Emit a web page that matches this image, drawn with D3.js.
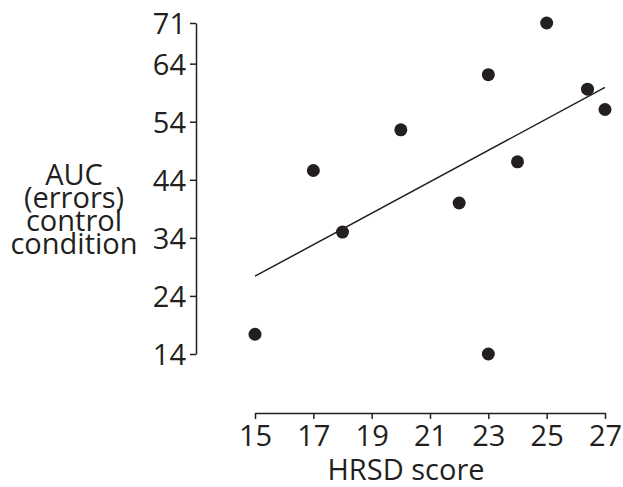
<!DOCTYPE html>
<html>
<head>
<meta charset="utf-8">
<script src="https://cdn.jsdelivr.net/npm/d3@7"></script>
<style>
  body { margin: 0; background: #fff; }
  svg text { font-family: "Open Sans", "Noto Sans", sans-serif; fill: #231f20; }
  .axis path, .axis line { stroke: #231f20; stroke-width: 1.5; }
</style>
</head>
<body>
<svg id="chart" width="623" height="487"></svg>
<script>
// data
var hrsd = [15, 17, 18, 20, 22, 23, 23, 24, 25, 26.4, 27];
var auc  = [17.4, 45.6, 35.0, 52.6, 40.0, 62.1, 14.0, 47.1, 71.0, 59.6, 56.1];
// fitted line end points (x, y)
var fitX = [15, 27];
var fitY = [27.4, 59.9];
var xTicks = [15, 17, 19, 21, 23, 25, 27];
var yTicks = [14, 24, 34, 44, 54, 64, 71];
var yLabel = ["AUC", "(errors)", "control", "condition"];

var svg = d3.select("#chart");
var ink = "#231f20";
var fs = "29px";

var x = d3.scaleLinear().domain([15, 27]).range([255, 605]);
var y = d3.scaleLinear().domain([14, 71]).range([354, 23]);

// x axis
var xg = svg.append("g").attr("class", "axis")
  .attr("transform", "translate(0,413)")
  .call(d3.axisBottom(x).tickValues(xTicks).tickSize(6).tickPadding(6).tickSizeOuter(0));
xg.selectAll("text").style("font-size", fs);

// y axis
var yg = svg.append("g").attr("class", "axis")
  .attr("transform", "translate(196,0)")
  .call(d3.axisLeft(y).tickValues(yTicks).tickSize(6).tickPadding(4).tickSizeOuter(0));
yg.selectAll("text").style("font-size", fs).attr("dy", "0.36em");
svg.selectAll(".axis .domain").attr("fill", "none");
svg.selectAll(".axis text").attr("fill", ink);

// axis titles
svg.append("text").attr("x", 406).attr("y", 480)
  .attr("text-anchor", "middle").style("font-size", fs).text("HRSD score");

svg.append("g").selectAll("text").data(yLabel).enter().append("text")
  .attr("x", 74)
  .attr("y", function(d, i) { return 185 + i * 23; })
  .attr("text-anchor", "middle").style("font-size", fs)
  .text(function(d) { return d; });

// regression line
svg.append("line")
  .attr("x1", x(fitX[0])).attr("y1", y(fitY[0]))
  .attr("x2", x(fitX[1])).attr("y2", y(fitY[1]))
  .attr("stroke", ink).attr("stroke-width", 1.5);

// points
svg.append("g").selectAll("circle").data(hrsd).enter().append("circle")
  .attr("cx", function(d) { return x(d); })
  .attr("cy", function(d, i) { return y(auc[i]); })
  .attr("r", 6.5)
  .attr("fill", ink);
</script>
</body>
</html>
